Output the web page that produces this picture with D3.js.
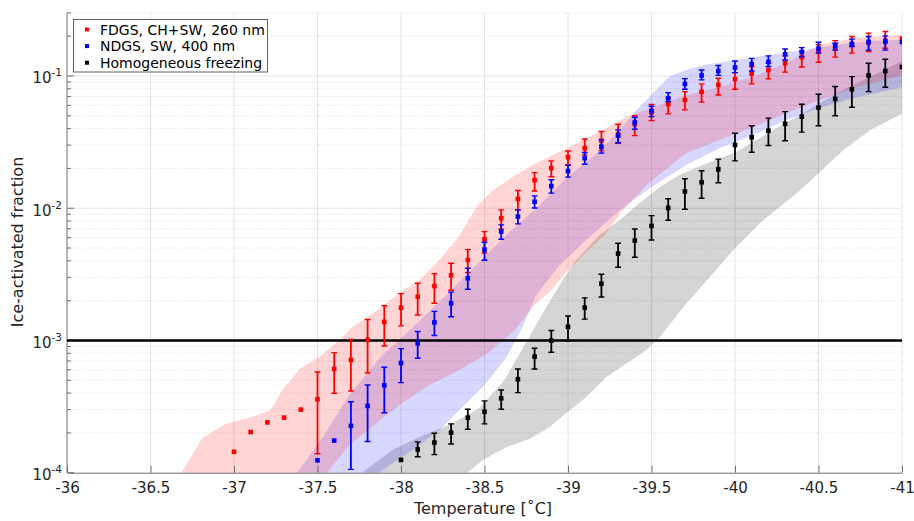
<!DOCTYPE html>
<html>
<head>
<meta charset="utf-8">
<script src="https://cdn.jsdelivr.net/npm/d3@7"></script>
<style>
  html, body { margin: 0; padding: 0; background: #ffffff; }
  svg { display: block; font-family: "DejaVu Sans", "Liberation Sans", sans-serif; }
</style>
</head>
<body>
<svg id="chart" width="914" height="521"></svg>
<script>
// ---------- data ----------
// FDGS, CH+SW, 260 nm
const redTemp = [-37.0,-37.1,-37.2,-37.3,-37.4,-37.5,-37.6,-37.7,-37.8,-37.9,-38.0,-38.1,-38.2,-38.3,-38.4,-38.5,-38.6,-38.7,-38.8,-38.9,-39.0,-39.1,-39.2,-39.3,-39.4,-39.5,-39.6,-39.7,-39.8,-39.9,-40.0,-40.1,-40.2,-40.3,-40.4,-40.5,-40.6,-40.7,-40.8,-40.9,-41.0];
const redFrac = [1.44e-4,2.03e-4,2.40e-4,2.61e-4,3.00e-4,3.59e-4,6.09e-4,7.12e-4,1.01e-3,1.38e-3,1.77e-3,2.14e-3,2.58e-3,3.11e-3,4.06e-3,5.83e-3,8.40e-3,1.175e-2,1.63e-2,2.01e-2,2.43e-2,2.84e-2,3.24e-2,3.63e-2,4.32e-2,5.30e-2,6.12e-2,6.59e-2,7.59e-2,8.57e-2,9.46e-2,0.104,0.111,0.125,0.139,0.153,0.162,0.174,0.179,0.185,0.192];
const redLow  = [null,null,null,null,null,1.39e-4,3.99e-4,4.15e-4,5.68e-4,9.08e-4,1.29e-3,1.56e-3,1.91e-3,2.40e-3,3.26e-3,4.59e-3,6.93e-3,9.71e-3,1.35e-2,1.73e-2,2.13e-2,2.53e-2,2.73e-2,3.10e-2,3.54e-2,4.60e-2,5.17e-2,5.54e-2,6.34e-2,7.19e-2,7.94e-2,8.71e-2,9.51e-2,0.107,0.117,0.127,0.139,0.149,0.153,0.162,null];
const redHigh = [null,null,null,null,null,5.78e-4,8.09e-4,1.02e-3,1.44e-3,1.83e-3,2.26e-3,2.71e-3,3.20e-3,3.84e-3,4.86e-3,6.65e-3,9.71e-3,1.36e-2,1.86e-2,2.28e-2,2.71e-2,3.34e-2,3.80e-2,4.32e-2,5.01e-2,6.10e-2,6.79e-2,7.62e-2,8.71e-2,9.62e-2,0.106,0.118,0.125,0.142,0.153,0.172,0.185,0.199,0.211,0.217,null];

// NDGS, SW, 400 nm
const blueTemp = [-37.5,-37.6,-37.7,-37.8,-37.9,-38.0,-38.1,-38.2,-38.3,-38.4,-38.5,-38.6,-38.7,-38.8,-38.9,-39.0,-39.1,-39.2,-39.3,-39.4,-39.5,-39.6,-39.7,-39.8,-39.9,-40.0,-40.1,-40.2,-40.3,-40.4,-40.5,-40.6,-40.7,-40.8,-40.9,-41.0];
const blueFrac = [1.24e-4,1.75e-4,2.26e-4,3.20e-4,4.58e-4,6.76e-4,9.52e-4,1.37e-3,1.91e-3,2.95e-3,4.86e-3,6.65e-3,8.64e-3,1.12e-2,1.47e-2,1.91e-2,2.39e-2,2.92e-2,3.54e-2,4.45e-2,5.45e-2,6.79e-2,8.71e-2,0.101,0.109,0.116,0.123,0.128,0.146,0.152,0.161,0.168,0.175,0.181,0.182,0.181];
const blueLow  = [null,null,1.06e-4,1.72e-4,2.84e-4,4.80e-4,7.33e-4,1.09e-3,1.51e-3,2.44e-3,4.04e-3,5.83e-3,7.61e-3,1.005e-2,1.30e-2,1.72e-2,2.15e-2,2.61e-2,3.13e-2,3.96e-2,4.93e-2,6.40e-2,7.94e-2,9.35e-2,0.101,0.106,0.109,0.118,0.132,0.140,0.149,0.157,0.167,0.157,0.157,null];
const blueHigh = [null,null,3.44e-4,4.61e-4,6.27e-4,8.67e-4,1.17e-3,1.66e-3,2.32e-3,3.52e-3,5.53e-3,7.48e-3,9.71e-3,1.24e-2,1.64e-2,2.11e-2,2.64e-2,3.29e-2,3.91e-2,4.88e-2,5.90e-2,7.48e-2,9.55e-2,0.111,0.120,0.130,0.136,0.142,0.160,0.164,0.180,0.177,0.190,0.199,0.201,null];

// Homogeneous freezing
const blackTemp = [-38.0,-38.1,-38.2,-38.3,-38.4,-38.5,-38.6,-38.7,-38.8,-38.9,-39.0,-39.1,-39.2,-39.3,-39.4,-39.5,-39.6,-39.7,-39.8,-39.9,-40.0,-40.1,-40.2,-40.3,-40.4,-40.5,-40.6,-40.7,-40.8,-40.9,-41.0];
const blackFrac = [1.25e-4,1.50e-4,1.69e-4,2.01e-4,2.61e-4,2.89e-4,3.65e-4,5.09e-4,7.54e-4,9.96e-4,1.27e-3,1.77e-3,2.69e-3,4.54e-3,5.69e-3,7.35e-3,1.005e-2,1.34e-2,1.57e-2,1.97e-2,3.01e-2,3.44e-2,3.86e-2,4.35e-2,4.93e-2,5.77e-2,6.71e-2,7.94e-2,0.101,0.109,0.117];
const blackLow  = [null,1.32e-4,1.37e-4,1.65e-4,2.13e-4,2.34e-4,3.02e-4,4.03e-4,6.09e-4,8.15e-4,9.96e-4,1.45e-3,2.13e-3,3.58e-3,4.26e-3,5.75e-3,8.11e-3,9.82e-3,1.19e-2,1.56e-2,2.28e-2,2.65e-2,2.98e-2,3.24e-2,3.76e-2,4.20e-2,5.01e-2,5.81e-2,7.62e-2,8.22e-2,null];
const blackHigh = [null,1.71e-4,1.99e-4,2.34e-4,3.02e-4,3.49e-4,4.22e-4,6.09e-4,8.73e-4,1.19e-3,1.53e-3,2.10e-3,3.17e-3,5.43e-3,6.97e-3,8.79e-3,1.18e-2,1.67e-2,1.92e-2,2.35e-2,3.69e-2,4.20e-2,4.80e-2,5.38e-2,6.12e-2,7.28e-2,8.32e-2,9.89e-2,0.125,0.134,null];

// shaded ranges: [temperature, fraction] along each edge
const redBandUpper = [[-36.66,8.8e-5],[-36.81,1.83e-4],[-36.95,2.34e-4],[-37.11,2.64e-4],[-37.22,2.98e-4],[-37.29,4.22e-4],[-37.40,6.19e-4],[-37.51,7.50e-4],[-37.63,1.01e-3],[-37.71,1.27e-3],[-37.86,1.70e-3],[-37.99,2.29e-3],[-38.11,2.87e-3],[-38.23,4.06e-3],[-38.34,5.96e-3],[-38.46,1.06e-2],[-38.55,1.37e-2],[-38.67,1.73e-2],[-38.81,2.20e-2],[-38.95,2.67e-2],[-39.09,3.29e-2],[-39.21,3.91e-2],[-39.35,4.91e-2],[-39.47,5.54e-2],[-39.71,7.19e-2],[-39.91,8.27e-2],[-40.11,9.85e-2],[-40.31,0.126],[-40.51,0.172],[-40.71,0.194],[-41.01,0.205]];
const redBandLower = [[-37.53,8.8e-5],[-37.56,1.01e-4],[-37.69,1.62e-4],[-37.84,2.29e-4],[-37.99,3.25e-4],[-38.17,4.61e-4],[-38.35,5.98e-4],[-38.53,8.18e-4],[-38.68,1.20e-3],[-38.80,1.86e-3],[-38.89,2.33e-3],[-38.99,3.30e-3],[-39.11,4.67e-3],[-39.22,6.28e-3],[-39.32,9.38e-3],[-39.47,1.50e-2],[-39.61,2.09e-2],[-39.71,2.62e-2],[-39.91,3.29e-2],[-40.11,4.12e-2],[-40.31,5.26e-2],[-40.51,6.59e-2],[-40.71,8.13e-2],[-41.01,0.102]];
const blueBandUpper = [[-37.32,8.8e-5],[-37.38,1.01e-4],[-37.54,1.93e-4],[-37.69,3.87e-4],[-37.89,7.77e-4],[-38.10,1.36e-3],[-38.29,2.33e-3],[-38.47,3.93e-3],[-38.65,6.62e-3],[-38.83,1.06e-2],[-38.98,1.64e-2],[-39.16,2.53e-2],[-39.31,3.91e-2],[-39.41,5.54e-2],[-39.51,7.45e-2],[-39.61,0.100],[-39.71,0.111],[-39.81,0.121],[-40.01,0.132],[-40.21,0.145],[-40.41,0.157],[-40.61,0.172],[-40.81,0.184],[-41.01,0.188]];
const blueBandLower = [[-37.81,8.8e-5],[-37.87,1.01e-4],[-38.05,1.43e-4],[-38.23,2.10e-4],[-38.38,3.25e-4],[-38.50,4.61e-4],[-38.62,7.12e-4],[-38.72,1.20e-3],[-38.81,2.21e-3],[-38.95,3.72e-3],[-39.13,6.07e-3],[-39.31,9.71e-3],[-39.49,1.42e-2],[-39.71,2.13e-2],[-39.91,2.86e-2],[-40.11,3.58e-2],[-40.31,4.66e-2],[-40.51,5.74e-2],[-40.71,6.82e-2],[-41.01,8.27e-2]];
const grayBandUpper = [[-37.72,8.8e-5],[-37.77,1.01e-4],[-37.95,1.49e-4],[-38.11,1.86e-4],[-38.31,2.38e-4],[-38.47,3.08e-4],[-38.62,5.02e-4],[-38.74,9.25e-4],[-38.86,1.70e-3],[-38.95,2.63e-3],[-39.04,3.93e-3],[-39.19,6.28e-3],[-39.31,8.16e-3],[-39.43,1.10e-2],[-39.55,1.45e-2],[-39.67,1.79e-2],[-39.81,2.13e-2],[-40.01,2.67e-2],[-40.21,3.78e-2],[-40.41,5.26e-2],[-40.61,7.45e-2],[-40.81,9.85e-2],[-41.01,0.132]];
const grayBandLower = [[-38.35,8.8e-5],[-38.40,1.01e-4],[-38.49,1.25e-4],[-38.63,1.56e-4],[-38.77,1.80e-4],[-38.89,2.22e-4],[-38.99,2.83e-4],[-39.09,3.55e-4],[-39.23,5.30e-4],[-39.47,8.47e-4],[-39.55,1.06e-3],[-39.71,1.92e-3],[-39.85,3.02e-3],[-39.99,4.84e-3],[-40.15,7.74e-3],[-40.39,1.37e-2],[-40.65,2.76e-2],[-40.81,3.91e-2],[-41.01,5.26e-2]];

const threshold = 1e-3;

const xTickValues = [-36,-36.5,-37,-37.5,-38,-38.5,-39,-39.5,-40,-40.5,-41];
const xTickLabels = ["-36","-36.5","-37","-37.5","-38","-38.5","-39","-39.5","-40","-40.5","-41"];
const yTickValues = [1e-4,1e-3,1e-2,1e-1];
const yTickExponents = ["-4","-3","-2","-1"];

const legendLabels = ["FDGS, CH+SW, 260 nm","NDGS, SW, 400 nm","Homogeneous freezing"];
const seriesColors = ["#ff0000","#0000ff","#000000"];

// ---------- scales ----------
const plotL = 67, plotR = 902, plotT = 12.9, plotB = 472.7;
const x = d3.scaleLinear().domain([-36, -41]).range([plotL, plotR]);
const y = d3.scaleLog().domain([1e-4, 0.3]).range([plotB, plotT]);

const svg = d3.select("#chart");
svg.append("rect").attr("width", 914).attr("height", 521).attr("fill", "#ffffff");

svg.append("defs").append("clipPath").attr("id", "plotArea")
  .append("rect").attr("x", plotL).attr("y", plotT)
  .attr("width", plotR - plotL).attr("height", plotB - plotT);

// ---------- grid ----------
const grid = svg.append("g");
const minorY = y.ticks().filter(v => !yTickValues.some(t => Math.abs(t - v) / t < 1e-6));
grid.selectAll("line.minor").data(minorY).join("line")
  .attr("x1", plotL).attr("x2", plotR)
  .attr("y1", d => y(d)).attr("y2", d => y(d))
  .attr("stroke", "#d9d9d9").attr("stroke-width", 0.8)
  .attr("stroke-dasharray", "1.2,1.8");
grid.selectAll("line.majorY").data(yTickValues.slice(1)).join("line")
  .attr("x1", plotL).attr("x2", plotR)
  .attr("y1", d => y(d)).attr("y2", d => y(d))
  .attr("stroke", "#e4e4e4").attr("stroke-width", 1);
grid.selectAll("line.majorX").data(xTickValues.slice(1)).join("line")
  .attr("x1", d => x(d)).attr("x2", d => x(d))
  .attr("y1", plotT).attr("y2", plotB)
  .attr("stroke", "#e4e4e4").attr("stroke-width", 1);

// ---------- shaded ranges ----------
const edge = d3.line().x(d => x(d[0])).y(d => y(d[1]));
function band(upper, lower) {
  return edge(upper.concat(lower.slice().reverse())) + "Z";
}
const bands = svg.append("g").attr("clip-path", "url(#plotArea)");
bands.append("path").attr("d", band(grayBandUpper, grayBandLower))
  .attr("fill", "#000000").attr("fill-opacity", 0.17);
bands.append("path").attr("d", band(blueBandUpper, blueBandLower))
  .attr("fill", "#0000ff").attr("fill-opacity", 0.16);
bands.append("path").attr("d", band(redBandUpper, redBandLower))
  .attr("fill", "#ff0000").attr("fill-opacity", 0.17);

// ---------- axes ----------
const axisColor = "#6e6e6e";
const xAxis = d3.axisBottom(x)
  .tickValues(xTickValues)
  .tickFormat((d, i) => xTickLabels[i])
  .tickSizeInner(-7).tickSizeOuter(0).tickPadding(10);
const gx = svg.append("g").attr("transform", `translate(0,${plotB})`).call(xAxis);
gx.select(".domain").attr("stroke", axisColor);
gx.selectAll(".tick line").attr("stroke", axisColor);
gx.selectAll(".tick text").attr("fill", "#262626").attr("font-size", 15)
  .attr("font-family", "DejaVu Sans, sans-serif");

const gy = svg.append("g");
gy.append("line").attr("x1", plotL).attr("x2", plotL).attr("y1", plotT).attr("y2", plotB)
  .attr("stroke", axisColor);
gy.selectAll("line.ymaj").data(yTickValues).join("line")
  .attr("x1", plotL).attr("x2", plotL + 7)
  .attr("y1", d => y(d)).attr("y2", d => y(d)).attr("stroke", axisColor);
gy.selectAll("line.ymin").data(minorY).join("line")
  .attr("x1", plotL).attr("x2", plotL + 4)
  .attr("y1", d => y(d)).attr("y2", d => y(d)).attr("stroke", axisColor);
const yLabels = gy.selectAll("text.ylab").data(yTickValues).join("text")
  .attr("x", 62).attr("y", d => y(d) + 7.5)
  .attr("text-anchor", "end").attr("fill", "#262626").attr("font-size", 15);
yLabels.append("tspan").text("10");
yLabels.append("tspan").attr("dy", -7).attr("font-size", 10.5)
  .text((d, i) => yTickExponents[i]);

// axis titles
svg.append("text").attr("x", 483).attr("y", 514)
  .attr("text-anchor", "middle").attr("font-size", 16).attr("fill", "#262626")
  .text("Temperature [˚C]");
svg.append("text").attr("transform", "translate(23,242) rotate(-90)")
  .attr("text-anchor", "middle").attr("font-size", 16).attr("fill", "#262626")
  .text("Ice-activated fraction");

// ---------- threshold line ----------
svg.append("line").attr("x1", plotL).attr("x2", plotR)
  .attr("y1", y(threshold)).attr("y2", y(threshold))
  .attr("stroke", "#000000").attr("stroke-width", 2.4);

// ---------- series ----------
const series = [
  { t: redTemp, f: redFrac, lo: redLow, hi: redHigh, color: seriesColors[0] },
  { t: blueTemp, f: blueFrac, lo: blueLow, hi: blueHigh, color: seriesColors[1] },
  { t: blackTemp, f: blackFrac, lo: blackLow, hi: blackHigh, color: seriesColors[2] }
];
const cap = 2.9, ms = 4.6;
series.forEach(s => {
  const rows = s.t.map((t, i) => ({ t, f: s.f[i], lo: s.lo[i], hi: s.hi[i] }));
  const g = svg.append("g").attr("clip-path", "url(#plotArea)");
  const bars = rows.filter(r => r.lo !== null && r.hi !== null);
  g.selectAll("line.bar").data(bars).join("line")
    .attr("x1", r => x(r.t)).attr("x2", r => x(r.t))
    .attr("y1", r => y(r.lo)).attr("y2", r => y(r.hi))
    .attr("stroke", s.color).attr("stroke-width", 1.8);
  g.selectAll("line.capLo").data(bars).join("line")
    .attr("x1", r => x(r.t) - cap).attr("x2", r => x(r.t) + cap)
    .attr("y1", r => y(r.lo)).attr("y2", r => y(r.lo))
    .attr("stroke", s.color).attr("stroke-width", 1.4);
  g.selectAll("line.capHi").data(bars).join("line")
    .attr("x1", r => x(r.t) - cap).attr("x2", r => x(r.t) + cap)
    .attr("y1", r => y(r.hi)).attr("y2", r => y(r.hi))
    .attr("stroke", s.color).attr("stroke-width", 1.4);
  g.selectAll("rect.pt").data(rows).join("rect")
    .attr("x", r => x(r.t) - ms / 2).attr("y", r => y(r.f) - ms / 2)
    .attr("width", ms).attr("height", ms).attr("fill", s.color);
});

// ---------- legend ----------
const lg = svg.append("g");
lg.append("rect").attr("x", 73.5).attr("y", 19.5).attr("width", 194).attr("height", 52.5)
  .attr("fill", "#ffffff").attr("stroke", "#3a3a3a").attr("stroke-width", 0.8);
legendLabels.forEach((label, i) => {
  const cy = 29.5 + i * 16.6;
  lg.append("rect").attr("x", 87 - 2).attr("y", cy - 2).attr("width", 4).attr("height", 4)
    .attr("fill", seriesColors[i]);
  lg.append("text").attr("x", 100).attr("y", cy + 5).attr("font-size", 14).attr("fill", "#000")
    .text(label);
});
</script>
</body>
</html>
